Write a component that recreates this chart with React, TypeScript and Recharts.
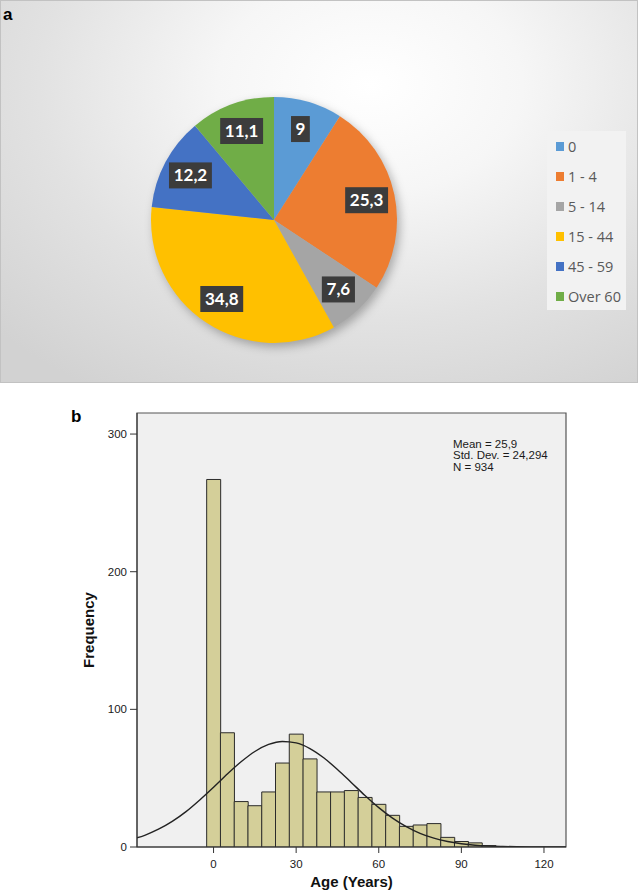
import React from 'react';
import {
  PieChart,
  Pie,
  Cell,
  Legend,
  ComposedChart,
  Bar,
  Line,
  XAxis,
  YAxis,
  CartesianGrid,
  ReferenceArea,
} from 'recharts';

// ---------- Panel a: pie ----------
const pieCategories = ['0', '1 - 4', '5 - 14', '15 - 44', '45 - 59', 'Over 60'];
const pieValues = [9, 25.3, 7.6, 34.8, 12.2, 11.1];
const pieColors = ['#5B9BD5', '#ED7D31', '#A5A5A5', '#FFC000', '#4472C4', '#70AD47'];

// ---------- Panel b: histogram ----------
const binCenters = [0, 5, 10, 15, 20, 25, 30, 35, 40, 45, 50, 55, 60, 65, 70, 75, 80, 85, 90, 95, 100];
const binCounts = [267, 83, 33, 30, 40, 61, 82, 64, 40, 40, 41, 36, 31, 23, 15, 16, 17, 7, 4, 3, 1];
const curveAges = [-30, -25, -20, -15, -10, -5, 0, 5, 10, 15, 20, 25, 30, 35, 40, 45, 50, 55, 60, 65, 70, 75, 80, 85, 90, 95, 100, 105, 110, 115, 120, 125, 130];
const curveFreq = [5.4, 8.5, 12.9, 18.6, 25.7, 34.2, 43.4, 53.0, 61.9, 69.4, 74.5, 76.7, 75.6, 71.5, 64.8, 56.3, 46.9, 37.4, 28.6, 21.0, 14.8, 9.9, 6.4, 4.0, 2.4, 1.3, 0.7, 0.4, 0.2, 0.1, 0.05, 0.02, 0];
const xTicks = [0, 30, 60, 90, 120];
const yTicks = [0, 100, 200, 300];
const xDomain = [-27.8, 128];
const yDomain = [0, 315.3];
const statsLines = ['Mean = 25,9', 'Std. Dev. = 24,294', 'N = 934'];

const pieData = pieCategories.map((name, i) => ({ name, value: pieValues[i] }));
const histData = curveAges.map((age, i) => {
  const bi = binCenters.indexOf(age);
  return { age, count: bi >= 0 ? binCounts[bi] : null, curve: curveFreq[i] };
});

const RAD = Math.PI / 180;
const fmt = (v: number) => String(v).replace('.', ',');

const renderPieLabel = (props: any) => {
  const { cx, cy, midAngle, outerRadius, value } = props;
  const r = outerRadius * 0.77;
  const x = cx + r * Math.cos(-midAngle * RAD);
  const y = cy + r * Math.sin(-midAngle * RAD);
  const text = fmt(value);
  let tw = 0;
  for (const ch of text) tw += ch === ',' ? 4.5 : 9.8;
  const w = tw + 9;
  const h = 26;
  return (
    <g>
      <rect x={x - w / 2} y={y - h / 2} width={w} height={h} fill="#3c3c3c" />
      <text
        x={x}
        y={y + 6}
        textAnchor="middle"
        fill="#ffffff"
        fontFamily="Lato, 'Open Sans', sans-serif"
        fontWeight={700}
        fontSize={17}
      >
        {text}
      </text>
    </g>
  );
};

const renderLegend = (props: any) => {
  const payload = [...(props.payload || [])].sort(
    (a: any, b: any) => pieCategories.indexOf(a.value) - pieCategories.indexOf(b.value)
  );
  return (
    <div
      style={{
        width: 79,
        height: 179,
        background: '#f2f2f2',
        boxSizing: 'border-box',
        fontFamily: "'Open Sans', Lato, sans-serif",
      }}
    >
      {payload.map((p: any, i: number) => (
        <div
          key={i}
          style={{ height: 30, display: 'flex', alignItems: 'center', paddingLeft: 9 }}
        >
          <span
            style={{
              display: 'inline-block',
              width: 8,
              height: 9,
              background: pieColors[pieCategories.indexOf(p.value)] || p.color,
              marginRight: 4,
            }}
          />
          <span style={{ fontSize: 14.5, color: '#595959', lineHeight: '15px' }}>{p.value}</span>
        </div>
      ))}
    </div>
  );
};

export default function App() {
  return (
    <div
      style={{
        position: 'absolute',
        left: 0,
        top: 0,
        width: 638,
        height: 891,
        background: '#ffffff',
        overflow: 'hidden',
        fontFamily: "'Liberation Sans', Arial, sans-serif",
      }}
    >
      <style>{`.pie-wrap .recharts-pie { filter: drop-shadow(3px 4px 5px rgba(0,0,0,0.28)); }`}</style>
      {/* panel a background */}
      <div
        style={{
          position: 'absolute',
          left: 0,
          top: 0,
          width: 638,
          height: 383,
          boxSizing: 'border-box',
          border: '1px solid #c2c2c2',
          background:
            'radial-gradient(ellipse 80% 95% at 58% 22%, #ffffff 0%, #f6f6f6 30%, #e2e2e2 65%, #d2d2d2 100%)',
        }}
      />
      <div className="pie-wrap" style={{ position: 'absolute', left: 0, top: 0 }}>
        <PieChart width={638} height={383} margin={{ top: 0, right: 0, bottom: 0, left: 0 }}>
          <Pie
            data={pieData}
            dataKey="value"
            nameKey="name"
            cx={274}
            cy={220}
            outerRadius={123}
            startAngle={90}
            endAngle={-270}
            stroke="none"
            label={renderPieLabel}
            labelLine={false}
            isAnimationActive={false}
          >
            {pieData.map((d, i) => (
              <Cell key={d.name} fill={pieColors[i]} />
            ))}
          </Pie>
          <Legend
            content={renderLegend}
            layout="vertical"
            wrapperStyle={{ position: 'absolute', left: 547, top: 131, width: 79, height: 179 }}
          />
        </PieChart>
      </div>

      {/* panel b: histogram */}
      <div style={{ position: 'absolute', left: 0, top: 385 }}>
        <ComposedChart
          width={638}
          height={506}
          data={histData}
          margin={{ top: 28, right: 72, bottom: 0, left: 0 }}
          barCategoryGap={0}
          barGap={0}
        >
          <CartesianGrid horizontal={false} vertical={false} fill="#f0f0f0" />
          <XAxis
            dataKey="age"
            type="number"
            domain={xDomain}
            allowDataOverflow
            ticks={xTicks}
            height={44}
            tickSize={6}
            tickMargin={7}
            stroke="#333333"
            tick={{ fill: '#1a1a1a', fontSize: 11.5, fontFamily: "'Liberation Sans', Arial, sans-serif" }}
            label={(p: any) => {
              const vb = p.viewBox;
              return (
                <text
                  x={vb.x + vb.width / 2}
                  y={vb.y + 39.5}
                  textAnchor="middle"
                  fontFamily="'Liberation Sans', Arial, sans-serif"
                  fontWeight={700}
                  fontSize={15}
                  fill="#111"
                >
                  Age (Years)
                </text>
              );
            }}
          />
          <YAxis
            type="number"
            domain={yDomain}
            allowDataOverflow
            ticks={yTicks}
            width={137}
            tickSize={7}
            tickMargin={3}
            stroke="#333333"
            tick={{ fill: '#1a1a1a', fontSize: 11.5, fontFamily: "'Liberation Sans', Arial, sans-serif" }}
            label={(p: any) => {
              const vb = p.viewBox;
              const cy = vb.y + vb.height / 2;
              return (
                <text
                  x={94}
                  y={cy}
                  transform={`rotate(-90, 94, ${cy})`}
                  textAnchor="middle"
                  fontFamily="'Liberation Sans', Arial, sans-serif"
                  fontWeight={700}
                  fontSize={15}
                  fill="#111"
                >
                  Frequency
                </text>
              );
            }}
          />
          <ReferenceArea
            x1={xDomain[0]}
            x2={xDomain[1]}
            y1={yDomain[0]}
            y2={yDomain[1]}
            fill="none"
            fillOpacity={0}
            stroke="#555555"
            strokeWidth={1.2}
          />
          <Bar
            dataKey="count"
            fill="#D4CF99"
            stroke="#2b2b2b"
            strokeWidth={1}
            isAnimationActive={false}
          />
          <Line
            dataKey="curve"
            type="monotone"
            stroke="#222222"
            strokeWidth={1.4}
            dot={false}
            activeDot={false}
            isAnimationActive={false}
          />
        </ComposedChart>
      </div>

      {/* panel letters and statistics text */}
      <svg
        width={638}
        height={891}
        style={{ position: 'absolute', left: 0, top: 0, pointerEvents: 'none' }}
      >
        <text x={3} y={20} fontFamily="'Liberation Sans', Arial, sans-serif" fontWeight={700} fontSize={17} fill="#000">
          a
        </text>
        <text x={71} y={421.7} fontFamily="'Liberation Sans', Arial, sans-serif" fontWeight={700} fontSize={17} fill="#000">
          b
        </text>
        {statsLines.map((s, i) => (
          <text
            key={s}
            x={453}
            y={447.6 + i * 11.7}
            fontFamily="'Liberation Sans', Arial, sans-serif"
            fontSize={11.5}
            fill="#1a1a1a"
          >
            {s}
          </text>
        ))}
      </svg>
    </div>
  );
}
